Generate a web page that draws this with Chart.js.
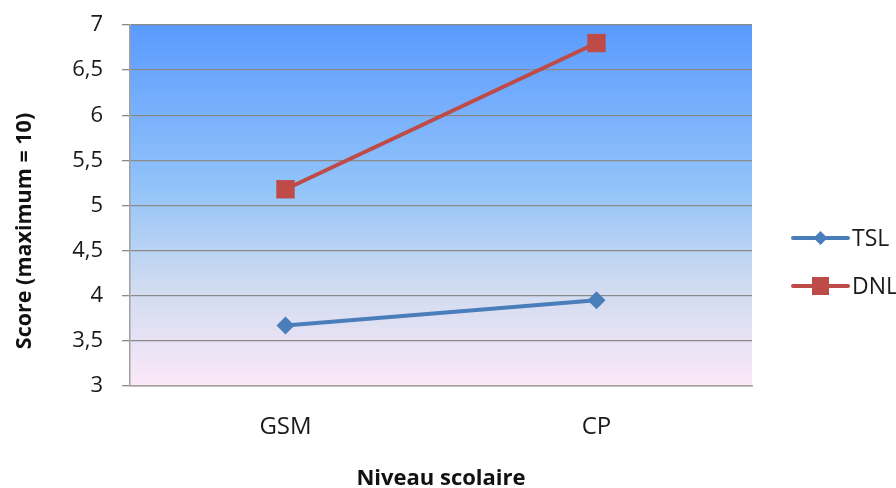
<!DOCTYPE html>
<html>
<head>
<meta charset="utf-8">
<script src="https://cdn.jsdelivr.net/npm/chart.js@4/dist/chart.umd.min.js"></script>
<style>
  html, body { margin: 0; padding: 0; background: #ffffff; }
  #wrap { width: 896px; height: 488px; }
</style>
</head>
<body>
<div id="wrap"><canvas id="c" width="896" height="488"></canvas></div>
<script>
// Score moyen par niveau scolaire
const categories = ['GSM', 'CP'];
const tslScores = [3.67, 3.95];
const dnlScores = [5.18, 6.80];
const seriesNames = ['TSL', 'DNL'];
const yMin = 3, yMax = 7, yStep = 0.5;
const xTitle = 'Niveau scolaire';
const yTitle = 'Score (maximum = 10)';

const blue = '#4A7EBB';
const red = '#BE4B48';
const FONT = '"Open Sans", "Noto Sans", sans-serif';

// Vertical blue-to-pink wash behind the plot area
const backdrop = {
  id: 'backdrop',
  beforeDraw(chart) {
    const { ctx, chartArea: a } = chart;
    const g = ctx.createLinearGradient(0, a.top, 0, a.bottom);
    g.addColorStop(0, '#5B9BFF');
    g.addColorStop(0.45, '#92C3F9');
    g.addColorStop(0.72, '#CFDBF0');
    g.addColorStop(1, '#FBE8F8');
    ctx.save();
    ctx.fillStyle = g;
    ctx.fillRect(a.left, a.top, a.right - a.left, a.bottom - a.top);
    ctx.restore();
  }
};

// Rotated y-axis title, set a little below the middle of the axis
const yAxisTitle = {
  id: 'yAxisTitle',
  afterDraw(chart) {
    const { ctx } = chart;
    ctx.save();
    ctx.translate(25, 231);
    ctx.rotate(-Math.PI / 2);
    ctx.fillStyle = '#111';
    ctx.font = 'bold 21.5px ' + FONT;
    ctx.textAlign = 'center';
    ctx.textBaseline = 'middle';
    ctx.fillText(yTitle, 0, 0);
    ctx.restore();
  }
};

// Legend on the right: line sample with its marker, then the series name
const sideLegend = {
  id: 'sideLegend',
  afterDraw(chart) {
    const { ctx } = chart;
    const rows = [238, 286];
    chart.data.datasets.forEach((ds, i) => {
      const y = rows[i];
      const x0 = 793, x1 = 848, xm = (x0 + x1) / 2;
      ctx.save();
      ctx.strokeStyle = ds.borderColor;
      ctx.lineWidth = 4;
      ctx.lineCap = 'round';
      ctx.beginPath();
      ctx.moveTo(x0, y);
      ctx.lineTo(x1, y);
      ctx.stroke();
      ctx.fillStyle = ds.pointBackgroundColor;
      ctx.beginPath();
      if (ds.pointStyle === 'rectRot') {
        const r = 7;
        ctx.moveTo(xm - r, y); ctx.lineTo(xm, y - r);
        ctx.lineTo(xm + r, y); ctx.lineTo(xm, y + r);
        ctx.closePath();
      } else {
        ctx.rect(xm - 8.5, y - 9, 17, 18);
      }
      ctx.fill();
      ctx.fillStyle = '#1a1a1a';
      ctx.font = '23px ' + FONT;
      ctx.textBaseline = 'middle';
      ctx.textAlign = 'left';
      ctx.fillText(ds.label, 852, y + 1);
      ctx.restore();
    });
  }
};

new Chart(document.getElementById('c'), {
  type: 'line',
  data: {
    labels: categories,
    datasets: [
      {
        label: seriesNames[0],
        data: tslScores,
        borderColor: blue,
        backgroundColor: blue,
        pointBackgroundColor: blue,
        pointBorderColor: blue,
        pointStyle: 'rectRot',
        pointRadius: 9,
        pointBorderWidth: 0,
        borderWidth: 4,
        tension: 0
      },
      {
        label: seriesNames[1],
        data: dnlScores,
        borderColor: red,
        backgroundColor: red,
        pointBackgroundColor: red,
        pointBorderColor: red,
        pointStyle: 'rect',
        pointRadius: 13,
        pointBorderWidth: 0,
        borderWidth: 4,
        tension: 0
      }
    ]
  },
  options: {
    responsive: false,
    animation: false,
    devicePixelRatio: 1,
    layout: { padding: { left: 0, top: 25, right: 144, bottom: 0 } },
    plugins: {
      legend: { display: false },
      tooltip: { enabled: false }
    },
    scales: {
      x: {
        offset: true,
        afterFit(scale) { scale.height = 102; },
        grid: { display: false, drawTicks: false },
        border: { display: true, color: '#A0A0A0', width: 1.5 },
        ticks: {
          padding: 27,
          color: '#1a1a1a',
          font: { family: FONT, size: 24 }
        },
        title: {
          display: true,
          text: xTitle,
          color: '#111',
          padding: { top: 0, bottom: 0 },
          font: { family: FONT, size: 22, weight: 'bold', lineHeight: 0.8 }
        }
      },
      y: {
        min: yMin,
        max: yMax,
        afterFit(scale) {
          scale.width = 130;
          scale.paddingTop = 10;
          scale.paddingBottom = 10;
        },
        grid: {
          color: '#8A8A8A',
          lineWidth: 1.3,
          drawTicks: true,
          tickLength: 8
        },
        border: { display: true, color: '#A0A0A0', width: 1.5 },
        ticks: {
          stepSize: yStep,
          padding: 19,
          color: '#1a1a1a',
          font: { family: FONT, size: 22 },
          callback: (v) => String(v).replace('.', ',')
        },
        title: { display: false }
      }
    }
  },
  plugins: [backdrop, yAxisTitle, sideLegend]
});
</script>
</body>
</html>
